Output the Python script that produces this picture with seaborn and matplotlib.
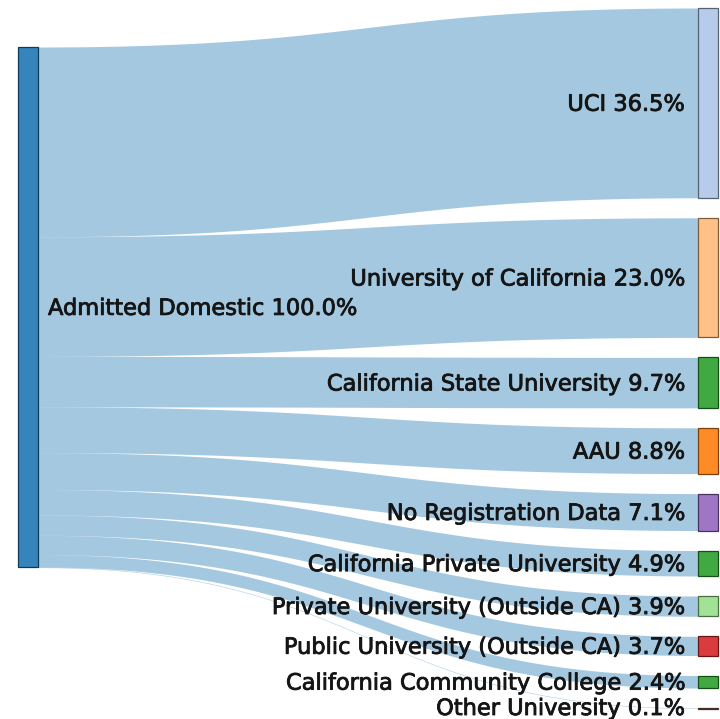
import numpy as np
import matplotlib
matplotlib.use("Agg")
import matplotlib.pyplot as plt
import matplotlib.patheffects as pe
import seaborn as sns
from matplotlib.patches import Rectangle

# ---- data ----
source_label = "Admitted Domestic"
source_share = 100.0
targets = ["UCI", "University of California", "California State University", "AAU",
           "No Registration Data", "California Private University",
           "Private University (Outside CA)", "Public University (Outside CA)",
           "California Community College", "Other University"]
shares = [36.5, 23.0, 9.7, 8.8, 7.1, 4.9, 3.9, 3.7, 2.4, 0.1]

# ---- style ----
sns.set_theme(style="white")
plt.rcParams['font.family'] = ['DejaVu Sans']
pal = sns.color_palette("tab20")
source_color = pal[0]
palette_idx = [1, 3, 4, 2, 8, 4, 5, 6, 4, 10]
target_colors = [pal[i] for i in palette_idx]

fig = plt.figure(figsize=(7.2, 7.19), dpi=100)
ax = fig.add_axes([0, 0, 1, 1])
ax.set_xlim(0, 720)
ax.set_ylim(719, 0)
ax.axis('off')

K = 5.2          # px per percent
GAP = 20
NODE_W = 20
X_LEFT = 18
X_RIGHT = 698
LEFT_TOP = 47
RIGHT_TOP = 8
FS = 16.2
TXT_COLOR = '#151515'
DY = 0.35 * FS * 100 / 72
TXT_FX = [pe.withStroke(linewidth=0.6, foreground=TXT_COLOR)]


def darker(c, k=2):
    return tuple(np.array(c[:3]) * 0.7 ** k)


def node(x, y, h, c):
    ax.add_patch(Rectangle((x, y), NODE_W, h, facecolor=(*c, 0.9),
                           edgecolor=darker(c), linewidth=0.9, zorder=3))


# links
x0 = X_LEFT + NODE_W
x1 = X_RIGHT
xm = (x0 + x1) / 2
t = np.linspace(0, 1, 200)
bx = (1 - t) ** 3 * x0 + 3 * (1 - t) ** 2 * t * xm + 3 * (1 - t) * t ** 2 * xm + t ** 3 * x1


def by(ya, yb):
    return (1 - t) ** 3 * ya + 3 * (1 - t) ** 2 * t * ya + 3 * (1 - t) * t ** 2 * yb + t ** 3 * yb


s_y = LEFT_TOP
t_y = RIGHT_TOP
target_tops = []
for name, v in zip(targets, shares):
    h = v * K
    top = by(s_y, t_y)
    bot = by(s_y + h, t_y + h)
    ax.fill_between(bx, top, bot, color=(*source_color, 0.4), linewidth=0, zorder=1)
    target_tops.append(t_y)
    s_y += h
    t_y += h + GAP

# source node
hs = source_share * K
node(X_LEFT, LEFT_TOP, hs, source_color)
ax.text(x0 + 10, LEFT_TOP + hs / 2 + DY,
        f"{source_label} {source_share:.1f}%", ha='left', va='baseline',
        fontsize=FS, color=TXT_COLOR, zorder=4, path_effects=TXT_FX)

# target nodes
for name, v, c, ty in zip(targets, shares, target_colors, target_tops):
    h = v * K
    node(X_RIGHT, ty, h, c)
    ax.text(X_RIGHT - 13, min(ty + h / 2 + DY, 715), f"{name} {v:.1f}%",
            ha='right', va='baseline', fontsize=FS, color=TXT_COLOR, zorder=4,
            path_effects=TXT_FX)

fig.savefig("out.png", dpi=100)
